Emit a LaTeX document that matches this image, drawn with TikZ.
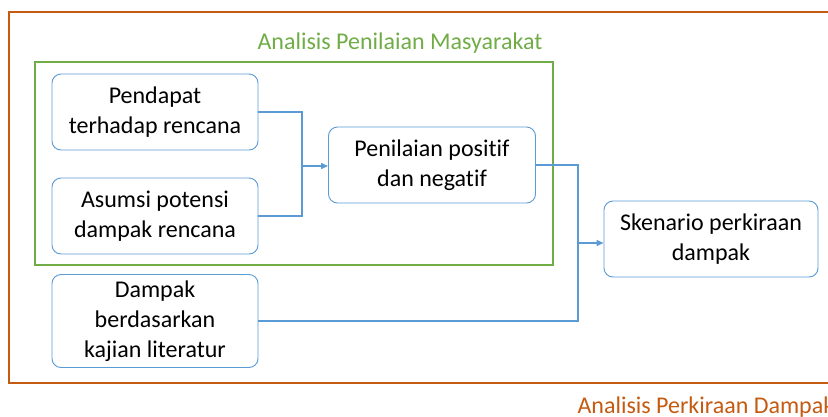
\documentclass[tikz,border=0pt]{standalone}
\usepackage{fontspec}
\setmainfont{Carlito}[Ligatures=NoCommon]
\definecolor{frameorange}{RGB}{197,90,17}
\definecolor{framegreen}{RGB}{112,173,71}
\definecolor{boxblue}{RGB}{91,155,213}
\usetikzlibrary{arrows.meta}
\begin{document}
\begin{tikzpicture}[x=1pt, y=-1pt,
		kotak/.style={draw=boxblue, line width=0.9pt, rounded corners=9pt, minimum width=206pt, minimum height=76pt, align=center, font=\fontsize{24}{30}\selectfont},
		garis/.style={draw=boxblue, line width=1.3pt},
		panah/.style={garis, -{Triangle[length=7pt, width=6pt]}}]
	\clip (0,0) rectangle (828,416);
	\fill[white] (0,0) rectangle (828,416);

	% Bingkai luar dan dalam
	\draw[frameorange, line width=2.6pt] (9,12) rectangle (840,383);
	\draw[framegreen, line width=2.8pt] (35,62) rectangle (553,265);
	\draw (400,43) node (judulHijau) [text=framegreen, font=\fontsize{24}{28}\selectfont] {Analisis Penilaian Masyarakat};
	\draw (574,407) node (judulOranye) [anchor=west, text=frameorange, font=\fontsize{24}{28}\selectfont] {Analisis Perkiraan Dampak};

	% Kotak-kotak
	\draw (155,112) node (pendapat) [kotak] {Pendapat\\terhadap rencana};
	\draw (155,216) node (asumsi) [kotak] {Asumsi potensi\\dampak rencana};
	\draw (155,321) node (literatur) [kotak, minimum height=93pt] {Dampak\\berdasarkan\\kajian literatur};
	\draw (432,165) node (penilaian) [kotak, minimum width=207pt] {Penilaian positif\\dan negatif};
	\draw (711,239) node (skenario) [kotak, minimum width=214pt] {Skenario perkiraan\\dampak};

	% Titik belok
	\coordinate (gabung1) at (302,166);
	\coordinate (gabung2) at (578,243);

	% Garis penghubung
	\draw[garis] (pendapat.east) -| (gabung1);
	\draw[garis] (asumsi.east) -| (gabung1);
	\draw[panah] (gabung1) -- (gabung1 -| penilaian.west);
	\draw[garis] (penilaian.east) -| (gabung2);
	\draw[garis] (literatur.east) -| (gabung2);
	\draw[panah] (gabung2) -- (gabung2 -| skenario.west);
\end{tikzpicture}
\end{document}
